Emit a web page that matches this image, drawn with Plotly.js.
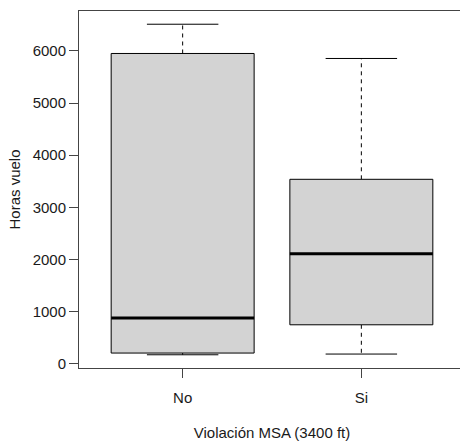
<!DOCTYPE html>
<html>
<head>
<meta charset="utf-8">
<script src="https://cdn.plot.ly/plotly-3.0.1.min.js"></script>
<style>
  html, body { margin: 0; padding: 0; overflow: hidden; background: #fff; }
  #chart { width: 470px; height: 441px; }
</style>
</head>
<body>
<div id="chart"></div>
<script>
// Flight hours by MSA violation (3400 ft): five-number summaries per group
const categories = ['No', 'Si'];
const lowerWhisker = [172, 186];
const q1 = [205, 747];
const median = [875, 2107];
const q3 = [5950, 3537];
const upperWhisker = [6511, 5854];
const yTicks = [0, 1000, 2000, 3000, 4000, 5000, 6000];

const halfBox = 0.4;    // box half-width in axis units
const halfCap = 0.2;    // staple half-width
const traces = [];
const base = { mode: 'lines', hoverinfo: 'skip', showlegend: false };

categories.forEach((cat, i) => {
  const p = i + 1;
  // dashed whiskers
  traces.push(Object.assign({}, base, {
    x: [p, p], y: [q3[i], upperWhisker[i]],
    line: { color: '#000', width: 1, dash: '4px,4px' }
  }));
  traces.push(Object.assign({}, base, {
    x: [p, p], y: [q1[i], lowerWhisker[i]],
    line: { color: '#000', width: 1, dash: '4px,4px' }
  }));
  // staples
  traces.push(Object.assign({}, base, {
    x: [p - halfCap, p + halfCap], y: [upperWhisker[i], upperWhisker[i]],
    line: { color: '#000', width: 1 }
  }));
  traces.push(Object.assign({}, base, {
    x: [p - halfCap, p + halfCap], y: [lowerWhisker[i], lowerWhisker[i]],
    line: { color: '#000', width: 1 }
  }));
  // box
  traces.push(Object.assign({}, base, {
    x: [p - halfBox, p + halfBox, p + halfBox, p - halfBox, p - halfBox],
    y: [q1[i], q1[i], q3[i], q3[i], q1[i]],
    fill: 'toself', fillcolor: '#d3d3d3',
    line: { color: '#000', width: 1 }
  }));
  // median
  traces.push(Object.assign({}, base, {
    x: [p - halfBox, p + halfBox], y: [median[i], median[i]],
    line: { color: '#000', width: 3 }
  }));
});

const fnt = { family: 'Liberation Sans, Arial, sans-serif', size: 15, color: '#1a1a1a' };

const layout = {
  width: 470, height: 441,
  margin: { l: 79, r: 5, t: 11, b: 73 },
  paper_bgcolor: '#fff', plot_bgcolor: '#fff',
  font: fnt,
  xaxis: {
    range: [0.42, 2.58],
    tickmode: 'array', tickvals: categories.map((c, i) => i + 1), ticktext: categories,
    showgrid: false, zeroline: false,
    showline: true, mirror: true, linecolor: '#444', linewidth: 1,
    ticks: 'outside', ticklen: 9, tickcolor: '#444', tickwidth: 1,
    tickfont: fnt, ticklabelstandoff: 7,
    title: { text: 'Violación MSA (3400 ft)', font: fnt, standoff: 25 }
  },
  yaxis: {
    range: [-81.6, 6764.6],
    tickmode: 'array', tickvals: yTicks, ticktext: yTicks.map(String),
    showgrid: false, zeroline: false,
    showline: true, mirror: true, linecolor: '#444', linewidth: 1,
    ticks: 'outside', ticklen: 9, tickcolor: '#444', tickwidth: 1,
    tickfont: fnt,
    title: { text: 'Horas vuelo', font: fnt, standoff: 8 }
  }
};

Plotly.newPlot('chart', traces, layout, { staticPlot: true, displayModeBar: false });
</script>
</body>
</html>
